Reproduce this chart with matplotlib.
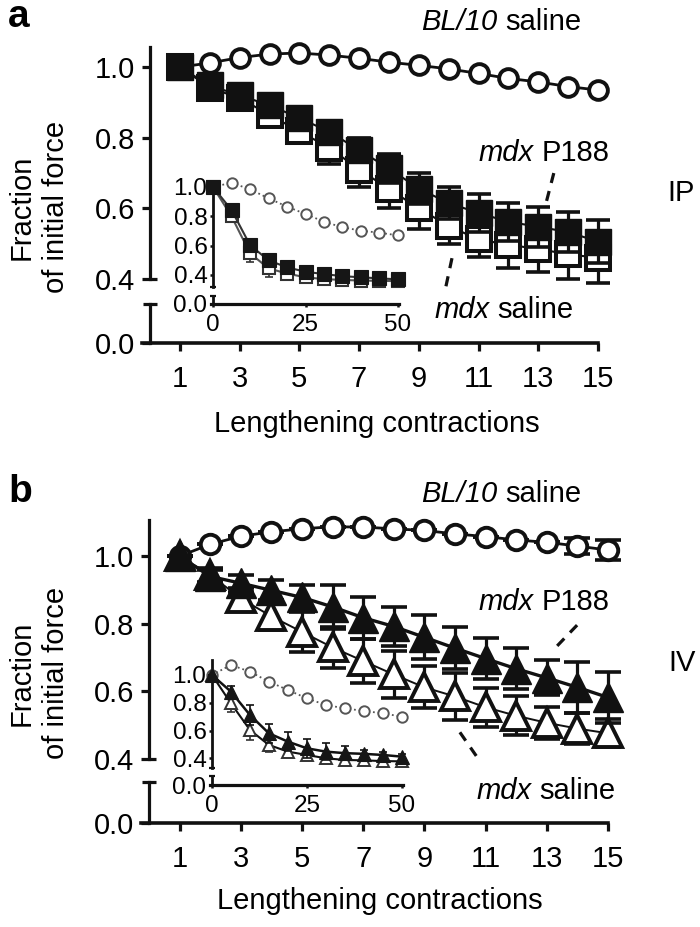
import matplotlib
matplotlib.use("Agg")
import matplotlib.pyplot as plt
import numpy as np

plt.rcParams['font.family'] = ['Liberation Sans', 'DejaVu Sans']

# ---------------- data ----------------
contractions = np.arange(1, 16)

# panel a (IP)
bl10_a = [1.000, 1.012, 1.027, 1.037, 1.040, 1.034, 1.025, 1.014, 1.005, 0.995, 0.982, 0.968, 0.958, 0.945, 0.935]
p188_a = [1.000, 0.948, 0.920, 0.892, 0.856, 0.817, 0.765, 0.713, 0.656, 0.615, 0.587, 0.562, 0.548, 0.533, 0.506]
p188_a_err = [0.0, 0.012, 0.015, 0.020, 0.025, 0.030, 0.035, 0.040, 0.045, 0.046, 0.054, 0.054, 0.057, 0.057, 0.060]
sal_a = [1.000, 0.942, 0.912, 0.865, 0.818, 0.772, 0.710, 0.655, 0.600, 0.550, 0.512, 0.497, 0.485, 0.470, 0.460]
sal_a_err = [0.0, 0.010, 0.015, 0.025, 0.031, 0.045, 0.050, 0.055, 0.058, 0.050, 0.050, 0.065, 0.065, 0.070, 0.070]

# panel b (IV)
bl10_b = [1.000, 1.035, 1.059, 1.072, 1.081, 1.087, 1.086, 1.081, 1.076, 1.066, 1.058, 1.048, 1.041, 1.030, 1.018]
bl10_b_err = [0.0, 0.0, 0.0, 0.0, 0.0, 0.0, 0.0, 0.0, 0.0, 0.0, 0.0, 0.0, 0.0, 0.024, 0.030]
p188_b = [1.000, 0.940, 0.920, 0.899, 0.878, 0.850, 0.818, 0.792, 0.760, 0.728, 0.697, 0.667, 0.640, 0.612, 0.582]
p188_b_err = [0.0, 0.020, 0.025, 0.030, 0.036, 0.064, 0.062, 0.058, 0.065, 0.063, 0.060, 0.060, 0.052, 0.075, 0.076]
sal_b = [1.000, 0.945, 0.875, 0.822, 0.776, 0.730, 0.690, 0.650, 0.612, 0.585, 0.553, 0.528, 0.507, 0.490, 0.476]
sal_b_err = [0.0, 0.020, 0.030, 0.040, 0.058, 0.060, 0.066, 0.070, 0.062, 0.070, 0.058, 0.058, 0.047, 0.045, 0.041]

# insets (50 contractions, every 5th)
ins_x = [0, 5, 10, 15, 20, 25, 30, 35, 40, 45, 50]
ins_bl10_a = [1.0, 1.029, 0.984, 0.923, 0.866, 0.816, 0.763, 0.725, 0.702, 0.688, 0.670]
ins_p188_a = [1.0, 0.843, 0.604, 0.500, 0.452, 0.422, 0.406, 0.392, 0.384, 0.377, 0.370]
ins_p188_a_err = [0.0, 0.02, 0.03, 0.03, 0.02, 0.015, 0.01, 0.01, 0.01, 0.01, 0.01]
ins_sal_a = [1.0, 0.800, 0.548, 0.445, 0.410, 0.384, 0.372, 0.366, 0.362, 0.360, 0.358]
ins_sal_a_err = [0.0, 0.02, 0.06, 0.06, 0.03, 0.02, 0.015, 0.01, 0.01, 0.01, 0.01]

ins_bl10_b = [1.0, 1.072, 1.024, 0.952, 0.892, 0.832, 0.784, 0.760, 0.741, 0.724, 0.700]
ins_p188_b = [1.0, 0.880, 0.712, 0.580, 0.520, 0.472, 0.448, 0.437, 0.432, 0.424, 0.412]
ins_p188_b_err = [0.0, 0.04, 0.07, 0.07, 0.07, 0.07, 0.06, 0.05, 0.03, 0.02, 0.02]
ins_sal_b = [1.0, 0.796, 0.604, 0.496, 0.448, 0.424, 0.400, 0.388, 0.385, 0.380, 0.378]
ins_sal_b_err = [0.0, 0.06, 0.07, 0.05, 0.04, 0.03, 0.02, 0.02, 0.02, 0.02, 0.02]

main_yticks = [0.4, 0.6, 0.8, 1.0]
main_xticks = [1, 3, 5, 7, 9, 11, 13, 15]
ins_xticks = [0, 25, 50]

# ---------------- figure ----------------
W, H = 700, 927
fig = plt.figure(figsize=(W / 100, H / 100), dpi=100)
renderer = fig.canvas.get_renderer()
K = '#111111'
LW = 2.3
FS = 21


def px_ax(left, top, right, bottom):
    ax = fig.add_axes([left / W, 1 - bottom / H, (right - left) / W, (bottom - top) / H])
    ax.patch.set_alpha(0)
    for s in ax.spines.values():
        s.set_visible(False)
    return ax


def ftext(x, y, s, **kw):
    return fig.text(x / W, 1 - y / H, s, **kw)


def mixed(xc, yb, it_part, rm_part, fs=FS):
    t1 = ftext(0, yb, it_part, fontsize=fs, fontstyle='italic', ha='left', va='baseline')
    t2 = ftext(0, yb, rm_part, fontsize=fs, ha='left', va='baseline')
    w1 = t1.get_window_extent(renderer).width
    w2 = t2.get_window_extent(renderer).width
    gap = 0.278 * fs * 100 / 72
    x0 = xc - (w1 + gap + w2) / 2
    t1.set_x(x0 / W)
    t2.set_x((x0 + w1 + gap) / W)


def main_axes(left, right, top_up, bot_up, top_lo, bot_lo, ylim_up, ylim_lo, xl):
    axU = px_ax(left, top_up, right, bot_up)
    axL = px_ax(left, top_lo, right, bot_lo)
    for ax, yl in ((axU, ylim_up), (axL, ylim_lo)):
        ax.set_xlim(xl, 15)
        ax.set_ylim(*yl)
        ax.spines['left'].set_visible(True)
        ax.spines['left'].set_position(('data', 0))
        ax.spines['left'].set_linewidth(LW)
        ax.spines['left'].set_color(K)
        ax.tick_params(direction='out', length=5.5, width=LW, color=K,
                       labelsize=FS, pad=5)
    axU.set_yticks(main_yticks)
    axU.set_yticklabels([f'{v:.1f}' for v in main_yticks])
    axU.set_xticks([])
    axL.set_yticks([0.0])
    axL.set_yticklabels(['0.0'])
    axL.spines['bottom'].set_visible(True)
    axL.spines['bottom'].set_linewidth(LW + 0.3)
    axL.spines['bottom'].set_color(K)
    axL.set_xticks(main_xticks)
    axL.set_xticklabels([str(v) for v in main_xticks])
    axL.tick_params(axis='x', pad=10)
    # break caps
    axU.plot([0, 0.22], [0.4, 0.4], color=K, lw=LW, clip_on=False, solid_capstyle='butt')
    axL.plot([-0.22, 0.22], [ylim_lo[1], ylim_lo[1]], color=K, lw=LW, clip_on=False,
             solid_capstyle='butt')
    return axU, axL


def inset_axes(left, right, top_up, bot_up, top_lo, bot_lo, ylim_up, ylim_lo):
    axU = px_ax(left, top_up, right, bot_up)
    axL = px_ax(left, top_lo, right, bot_lo)
    for ax, yl in ((axU, ylim_up), (axL, ylim_lo)):
        ax.set_xlim(-0.6, 50.3)
        ax.set_ylim(*yl)
        ax.spines['left'].set_visible(True)
        ax.spines['left'].set_position(('data', 0))
        ax.spines['left'].set_linewidth(2.0)
        ax.spines['left'].set_color(K)
        ax.tick_params(direction='out', length=2.5, width=1.8, color=K,
                       labelsize=17.5, pad=1.5)
    axU.set_yticks(main_yticks)
    axU.set_yticklabels([f'{v:.1f}' for v in main_yticks])
    axU.set_xticks([])
    axL.set_yticks([0.0])
    axL.set_yticklabels(['0.0'])
    axL.spines['bottom'].set_visible(True)
    axL.spines['bottom'].set_linewidth(2.3)
    axL.spines['bottom'].set_color(K)
    axL.set_xticks(ins_xticks)
    axL.set_xticklabels([str(v) for v in ins_xticks])
    axL.tick_params(axis='x', pad=5)
    axU.plot([-0.9, 0.9], [ylim_up[0], ylim_up[0]], color=K, lw=1.6, clip_on=False,
             solid_capstyle='butt')
    axL.plot([-0.9, 0.9], [ylim_lo[1], ylim_lo[1]], color=K, lw=1.6, clip_on=False,
             solid_capstyle='butt')
    return axU, axL


# ================= Panel a =================
aU, aL = main_axes(142, 598, 47, 279, 304, 343, (0.4, 1.057), (0, 0.11), -0.27)

aU.plot(contractions, bl10_a, '-', color=K, lw=2.0, marker='o', ms=13.5, mfc='white',
        mec=K, mew=2.8, clip_on=False, zorder=3)
aU.errorbar(contractions, sal_a, yerr=sal_a_err, fmt='none', ecolor=K, elinewidth=LW,
            capsize=8.3, capthick=LW + 0.3, clip_on=False, zorder=4)
aU.plot(contractions, sal_a, '-', color=K, lw=1.5, marker='s', ms=17.5, mfc='white',
        mec=K, mew=2.9, clip_on=False, zorder=5)
aU.errorbar(contractions, p188_a, yerr=p188_a_err, fmt='none', ecolor=K, elinewidth=LW,
            capsize=8.3, capthick=LW + 0.3, clip_on=False, zorder=6)
aU.plot(contractions, p188_a, '-', color=K, lw=1.5, marker='s', ms=19, mfc=K,
        mec=K, mew=1, clip_on=False, zorder=7)

# pointers
aU.plot([13.52, 13.26], [0.700, 0.615], color=K, lw=2.3, ls=(0, (3.2, 2.6)), clip_on=False)
aU.plot([10.11, 9.88], [0.459, 0.368], color=K, lw=2.3, ls=(0, (3.2, 2.6)), clip_on=False)

# inset a
iaU, iaL = inset_axes(210.8, 399.1, 182, 287, 296, 304, (0.318, 1.034), (0, 0.055))
iaU.plot(ins_x, ins_bl10_a, color='#555555', lw=1.3, ls=':', marker='o', ms=7.5,
         mfc='white', mec='#555555', mew=1.4, clip_on=False, zorder=3)
iaU.errorbar(ins_x, ins_sal_a, yerr=ins_sal_a_err, fmt='none', ecolor='#333333',
             elinewidth=1.2, capsize=3, capthick=1.2, clip_on=False, zorder=4)
iaU.plot(ins_x, ins_sal_a, '-', color='#555555', lw=1.5, marker='s', ms=9,
         mfc='white', mec='#333333', mew=1.5, clip_on=False, zorder=5)
iaU.errorbar(ins_x, ins_p188_a, yerr=ins_p188_a_err, fmt='none', ecolor=K,
             elinewidth=1.2, capsize=3, capthick=1.2, clip_on=False, zorder=6)
iaU.plot(ins_x, ins_p188_a, '-', color='#333333', lw=1.5, marker='s', ms=10,
         mfc='#161616', mec='#161616', mew=0.8, clip_on=False, zorder=7)

# ================= Panel b =================
bU, bL = main_axes(141.3, 608, 520, 759, 782, 823, (0.4, 1.107), (0, 0.121), -0.25)

bU.errorbar(contractions, bl10_b, yerr=bl10_b_err, fmt='none', ecolor=K, elinewidth=LW,
            capsize=9.5, capthick=LW + 0.3, clip_on=False, zorder=3)
bU.plot(contractions, bl10_b, '-', color=K, lw=2.0, marker='o', ms=14, mfc='white',
        mec=K, mew=2.8, clip_on=False, zorder=3)
bU.errorbar(contractions, sal_b, yerr=sal_b_err, fmt='none', ecolor=K, elinewidth=LW,
            capsize=9.5, capthick=LW + 0.3, clip_on=False, zorder=4)
bU.plot(contractions, sal_b, '-', color=K, lw=1.4, marker='^', ms=19.5, mfc='white',
        mec=K, mew=2.8, clip_on=False, zorder=5)
bU.errorbar(contractions, p188_b, yerr=p188_b_err, fmt='none', ecolor=K, elinewidth=LW,
            capsize=9.5, capthick=LW + 0.3, clip_on=False, zorder=6)
bU.plot(contractions, p188_b, '-', color=K, lw=2.4, marker='^', ms=21, mfc=K,
        mec=K, mew=1, clip_on=False, zorder=7)

bU.plot([13.99, 13.27], [0.796, 0.728], color=K, lw=2.3, ls=(0, (3.2, 2.6)), clip_on=False)
bU.plot([10.16, 10.75], [0.479, 0.402], color=K, lw=2.3, ls=(0, (3.2, 2.6)), clip_on=False)

# inset b
ibU, ibL = inset_axes(209.7, 402.8, 660, 768, 776, 785, (0.330, 1.108), (0, 0.065))
ibU.plot(ins_x, ins_bl10_b, color='#555555', lw=1.3, ls=':', marker='o', ms=7.5,
         mfc='white', mec='#555555', mew=1.4, clip_on=False, zorder=3)
ibU.errorbar(ins_x, ins_sal_b, yerr=ins_sal_b_err, fmt='none', ecolor='#333333',
             elinewidth=1.2, capsize=3, capthick=1.2, clip_on=False, zorder=4)
ibU.plot(ins_x, ins_sal_b, '-', color=K, lw=1.5, marker='^', ms=9,
         mfc='white', mec='#333333', mew=1.4, clip_on=False, zorder=5)
ibU.errorbar(ins_x, ins_p188_b, yerr=ins_p188_b_err, fmt='none', ecolor=K,
             elinewidth=1.2, capsize=3, capthick=1.2, clip_on=False, zorder=6)
ibU.plot(ins_x, ins_p188_b, '-', color=K, lw=1.8, marker='^', ms=9.5,
         mfc='#161616', mec='#161616', mew=0.8, clip_on=False, zorder=7)

# ================= texts =================
ftext(8, 27, 'a', fontsize=28, fontweight='bold', ha='left', va='baseline')
ftext(8, 502, 'b', fontsize=28, fontweight='bold', ha='left', va='baseline')

mixed(501, 30, 'BL/10', 'saline')
mixed(501, 502, 'BL/10', 'saline')
mixed(544, 161, 'mdx', 'P188')
mixed(504, 318, 'mdx', 'saline')
mixed(544, 610, 'mdx', 'P188')
mixed(546, 799, 'mdx', 'saline')
ftext(681, 201, 'IP', fontsize=FS, ha='center', va='baseline')
ftext(682, 671, 'IV', fontsize=FS, ha='center', va='baseline')

for yc in (207, 673):
    ftext(39, yc, 'Fraction\nof initial force', fontsize=FS, rotation=90,
          ha='center', va='center', multialignment='center', linespacing=1.3)
ftext(377, 432, 'Lengthening contractions', fontsize=FS, ha='center', va='baseline')
ftext(380, 909, 'Lengthening contractions', fontsize=FS, ha='center', va='baseline')

fig.savefig('out.png', dpi=100, facecolor='white')
